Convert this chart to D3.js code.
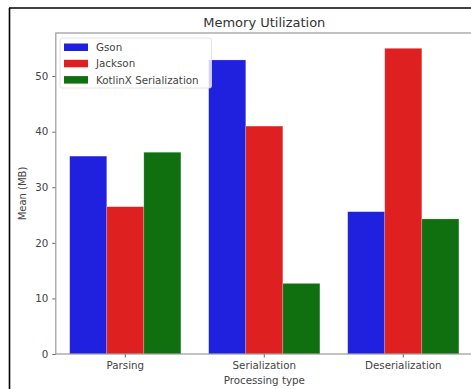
<!DOCTYPE html>
<html><head><meta charset="utf-8">
<script src="https://cdn.jsdelivr.net/npm/d3@7"></script>
<style>body{margin:0;background:#fff}svg{display:block;font-family:"DejaVu Sans",sans-serif}</style>
</head><body><svg id="c" width="471" height="389"></svg>
<script>
const categories = ["Parsing", "Serialization", "Deserialization"];
const seriesNames = ["Gson", "Jackson", "KotlinX Serialization"];
const gson = [35.6, 52.9, 25.6];
const jackson = [26.5, 41.0, 55.0];
const kotlinx = [36.3, 12.7, 24.3];
const colors = ["#2020df", "#df2020", "#107010"];
const yTicks = [0, 10, 20, 30, 40, 50];

const svg = d3.select("#c");
const mLeft = 55.8, mRight = 472.8, mTop = 33, mBottom = 354;
const x = d3.scaleBand().domain(categories).range([mLeft, mRight]).paddingInner(0.2).paddingOuter(0.1);
const x1 = d3.scaleBand().domain(seriesNames).range([0, x.bandwidth()]);
const y = d3.scaleLinear().domain([0, 57.75]).range([mBottom, mTop]);
const series = [gson, jackson, kotlinx];
const fs = "10.3px";

// outer frame
svg.append("line").attr("x1", 9).attr("x2", 471).attr("y1", 8).attr("y2", 8).attr("stroke", "#000").attr("stroke-width", 1.6);
svg.append("line").attr("x1", 9.5).attr("x2", 9.5).attr("y1", 8).attr("y2", 389).attr("stroke", "#000").attr("stroke-width", 1.6);

// bars
series.forEach((vals, si) => {
  svg.append("g").selectAll("rect").data(vals).join("rect")
    .attr("x", (d, i) => x(categories[i]) + x1(seriesNames[si]))
    .attr("width", x1.bandwidth())
    .attr("y", d => y(d))
    .attr("height", d => y(0) - y(d))
    .attr("fill", colors[si])
    .attr("stroke", "#fff").attr("stroke-opacity", 0.35).attr("stroke-width", 0.6);
});

// axes
const ya = svg.append("g").attr("transform", `translate(${mLeft},0)`)
  .call(d3.axisLeft(y).tickValues(yTicks).tickSize(3.5).tickPadding(4));
const xa = svg.append("g").attr("transform", `translate(0,${mBottom})`)
  .call(d3.axisBottom(x).tickSize(3.5).tickPadding(4));
[ya, xa].forEach(g => {
  g.select(".domain").remove();
  g.selectAll("line").attr("stroke", "#666");
  g.selectAll("text").attr("fill", "#444").style("font-size", fs).style("font-family", "DejaVu Sans");
});
// spines
svg.append("rect").attr("x", mLeft).attr("y", mTop).attr("width", mRight - mLeft).attr("height", mBottom - mTop)
  .attr("fill", "none").attr("stroke", "#999").attr("stroke-width", 1.2);

// title & labels
svg.append("text").attr("x", (mLeft + mRight) / 2).attr("y", 27).attr("text-anchor", "middle")
  .style("font-size", "13px").attr("fill", "#333").text("Memory Utilization");
svg.append("text").attr("x", x("Serialization") + x.bandwidth() / 2).attr("y", 384).attr("text-anchor", "middle")
  .style("font-size", fs).attr("fill", "#444").text("Processing type");
svg.append("text").attr("transform", `translate(26,${(mTop + mBottom) / 2}) rotate(-90)`).attr("text-anchor", "middle")
  .style("font-size", "10px").attr("fill", "#444").text("Mean (MB)");

// legend
const lg = svg.append("g").attr("transform", "translate(60,38)");
lg.append("rect").attr("width", 151.5).attr("height", 50).attr("rx", 2)
  .attr("fill", "#fff").attr("fill-opacity", 0.8).attr("stroke", "#ddd").attr("stroke-width", 0.8);
seriesNames.forEach((n, i) => {
  lg.append("rect").attr("x", 4).attr("y", 5.5 + i * 16.3).attr("width", 24).attr("height", 7.5).attr("fill", colors[i]);
  lg.append("text").attr("x", 36).attr("y", 13 + i * 16.3).style("font-size", fs).attr("fill", "#444").text(n);
});
</script></body></html>
